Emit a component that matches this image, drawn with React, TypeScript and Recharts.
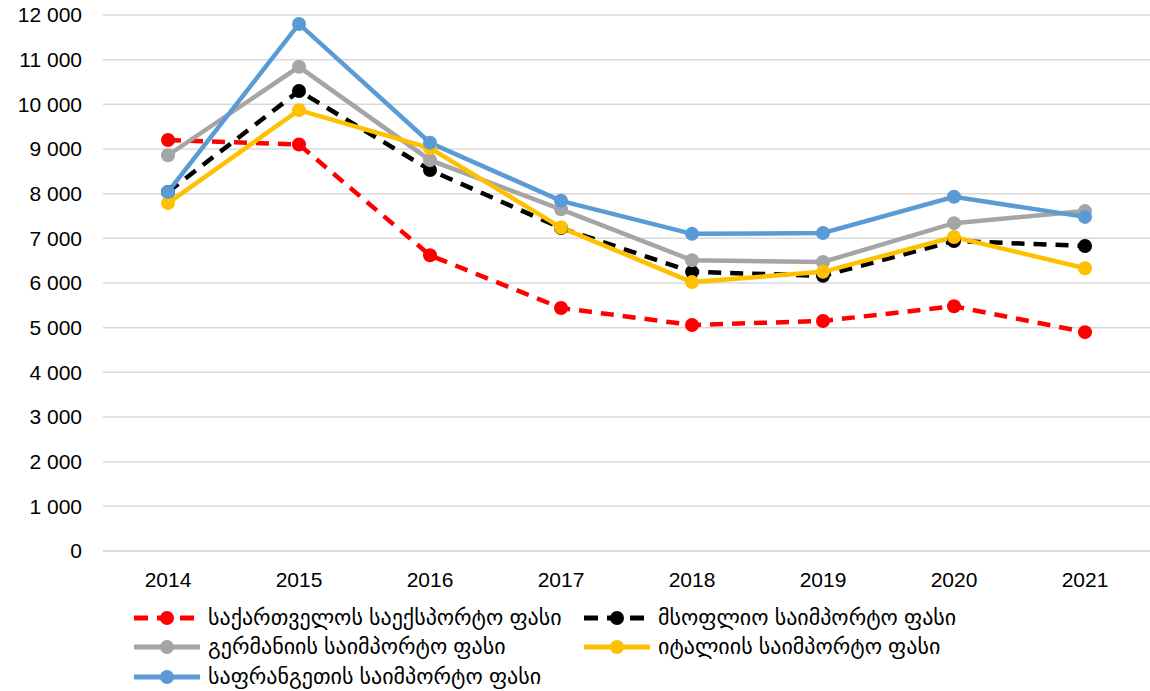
import React from "react";
import { LineChart, Line, XAxis, YAxis, CartesianGrid } from "recharts";

const years = ["2014", "2015", "2016", "2017", "2018", "2019", "2020", "2021"];
const georgiaExport = [9200, 9100, 6620, 5440, 5060, 5150, 5480, 4900];
const worldImport = [8040, 10300, 8530, 7230, 6250, 6160, 6940, 6830];
const germanyImport = [8860, 10840, 8750, 7650, 6510, 6470, 7340, 7610];
const italyImport = [7790, 9870, 9020, 7240, 6020, 6250, 7030, 6330];
const franceImport = [8040, 11800, 9140, 7840, 7100, 7120, 7930, 7480];
const yTicks = [0, 1000, 2000, 3000, 4000, 5000, 6000, 7000, 8000, 9000, 10000, 11000, 12000];

const seriesNames = [
  "საქართველოს საექსპორტო ფასი",
  "მსოფლიო საიმპორტო ფასი",
  "გერმანიის საიმპორტო ფასი",
  "იტალიის საიმპორტო ფასი",
  "საფრანგეთის საიმპორტო ფასი",
];

const data = years.map((y, i) => ({
  year: y,
  ge: georgiaExport[i],
  world: worldImport[i],
  de: germanyImport[i],
  it: italyImport[i],
  fr: franceImport[i],
}));

const series = [
  { key: "ge", name: seriesNames[0], color: "#FF0000", dash: "13 9" },
  { key: "world", name: seriesNames[1], color: "#000000", dash: "13 9" },
  { key: "de", name: seriesNames[2], color: "#A5A5A5", dash: undefined },
  { key: "it", name: seriesNames[3], color: "#FFC000", dash: undefined },
  { key: "fr", name: seriesNames[4], color: "#5B9BD5", dash: undefined },
];

const fmt = (v: number) => String(v).replace(/\B(?=(\d{3})+(?!\d))/g, " ");
const FONT = "'Liberation Sans', Arial, 'DejaVu Sans', sans-serif";

function LegendItem({ s, x, y }: { s: any; x: number; y: number }) {
  return (
    <div style={{ position: "absolute", left: x, top: y - 14, height: 28, display: "flex", alignItems: "center" }}>
      <svg width={70} height={20} style={{ display: "block" }}>
        <line x1={2} y1={10} x2={68} y2={10} stroke={s.color} strokeWidth={5} strokeDasharray={s.dash ? "14 9" : undefined} strokeLinecap="butt" />
        <circle cx={35} cy={10} r={7} fill={s.color} />
      </svg>
      <span style={{ marginLeft: 6, fontSize: 22, fontFamily: FONT, color: "#000", whiteSpace: "nowrap" }}>{s.name}</span>
    </div>
  );
}

export default function App() {
  return (
    <div style={{ position: "absolute", left: 0, top: 0, width: 1150, height: 691, background: "#fff" }}>
      <LineChart width={1150} height={691} data={data} margin={{ top: 15, right: 0, left: 0, bottom: 100 }}>
        <CartesianGrid vertical={false} stroke="#D9D9D9" strokeWidth={1.5} />
        <XAxis
          dataKey="year"
          axisLine={{ stroke: "#D9D9D9", strokeWidth: 1.5 }}
          tickLine={false}
          tickMargin={15}
          height={40}
          padding={{ left: 65, right: 65 }}
          interval={0}
          tick={{ fill: "#000", fontSize: 21, fontFamily: FONT }}
        />
        <YAxis
          domain={[0, 12000]}
          ticks={yTicks}
          tickFormatter={fmt}
          axisLine={false}
          tickLine={false}
          width={103}
          tickMargin={15}
          interval={0}
          tick={{ fill: "#000", fontSize: 21, fontFamily: FONT }}
        />
        {series.map((s) => (
          <Line
            key={s.key}
            dataKey={s.key}
            name={s.name}
            stroke={s.color}
            strokeWidth={4.5}
            strokeDasharray={s.dash}
            dot={{ r: 7, fill: s.color, stroke: s.color, strokeWidth: 0, strokeDasharray: "" }}
            activeDot={false}
            isAnimationActive={false}
          />
        ))}
      </LineChart>
      <LegendItem s={series[0]} x={132} y={618} />
      <LegendItem s={series[1]} x={582} y={618} />
      <LegendItem s={series[2]} x={132} y={647} />
      <LegendItem s={series[3]} x={582} y={647} />
      <LegendItem s={series[4]} x={132} y={677} />
    </div>
  );
}
